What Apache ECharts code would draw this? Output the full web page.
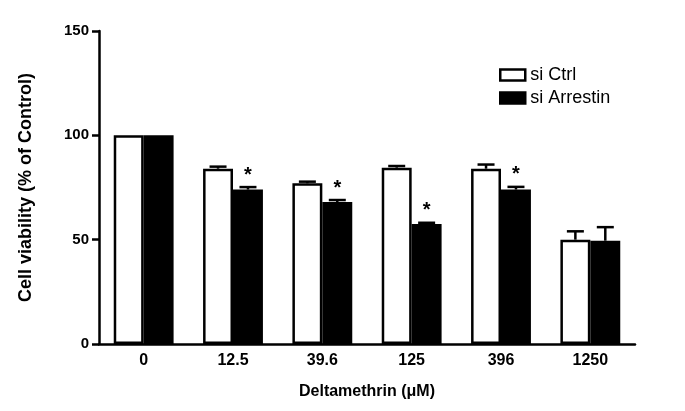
<!DOCTYPE html>
<html>
<head>
<meta charset="utf-8">
<script src="https://cdn.jsdelivr.net/npm/echarts@6/dist/echarts.min.js"></script>
<style>html,body{margin:0;padding:0;background:#fff}#c{width:685px;height:411px}</style>
</head>
<body>
<div id="c"></div>
<script>
var categories = ['0', '12.5', '39.6', '125', '396', '1250'];
var ctrlValues = [100, 84, 77, 84.5, 84, 50];
var ctrlErrors = [0, 1, 0.8, 0.8, 2, 4];
var arrValues = [100, 74, 68, 57.5, 74, 49.5];
var arrErrors = [0, 1.2, 1, 0.6, 1.3, 6.5];
var arrSignificant = [false, true, true, true, true, false];
var yTicks = [0, 50, 100, 150];

var FONT = 'Arial, "Liberation Sans", sans-serif';
var CAT_GAP = 0.33;

function errRender(values, errors, side, stars) {
  return function (params, api) {
    var i = api.value(0);
    var band = api.size([1, 0])[0];
    var bw = band * (1 - CAT_GAP) / 2;
    var base = api.coord([i, 0]);
    var cx = base[0] + side * bw / 2;
    var top = api.coord([i, values[i]])[1];
    var errTop = api.coord([i, values[i] + errors[i]])[1];
    var children = [];
    if (errors[i] > 0) {
      children.push({type: 'line', shape: {x1: cx, y1: top, x2: cx, y2: errTop}, style: {stroke: '#000', lineWidth: 2.5}});
      children.push({type: 'line', shape: {x1: cx - 8.5, y1: errTop, x2: cx + 8.5, y2: errTop}, style: {stroke: '#000', lineWidth: 2.5}});
    }
    if (stars && stars[i]) {
      children.push({type: 'text', style: {text: '*', x: cx, y: errTop - 2, align: 'center', verticalAlign: 'bottom', font: 'bold 20px ' + FONT, fill: '#000'}});
    }
    return {type: 'group', children: children};
  };
}

var chart = echarts.init(document.getElementById('c'), null, {renderer: 'canvas'});
chart.setOption({
  animation: false,
  backgroundColor: '#fff',
  grid: {left: 99, right: 50, top: 31, bottom: 67, containLabel: false},
  legend: {
    orient: 'vertical', left: 494, top: 61, itemWidth: 25, itemHeight: 11, itemGap: 5,
    icon: 'rect',
    textStyle: {fontFamily: FONT, fontSize: 18, color: '#000'},
    data: [
      {name: 'si Ctrl', itemStyle: {color: '#fff', borderColor: '#000', borderWidth: 2.5}},
      {name: 'si Arrestin', itemStyle: {color: '#000', borderColor: '#000', borderWidth: 2.5}}
    ]
  },
  xAxis: {
    type: 'category', data: categories,
    name: 'Deltamethrin (μM)', nameLocation: 'middle', nameGap: 40,
    nameTextStyle: {fontFamily: FONT, fontSize: 16, fontWeight: 'bold', color: '#000'},
    axisLine: {lineStyle: {color: '#000', width: 2.5}},
    axisTick: {alignWithLabel: true, length: 6, lineStyle: {color: '#000', width: 2.5}},
    axisLabel: {fontFamily: FONT, fontSize: 16, fontWeight: 'bold', color: '#000', margin: 9}
  },
  yAxis: {
    type: 'value', min: 0, max: 150, interval: 50,
    name: 'Cell viability (% of Control)', nameLocation: 'middle', nameGap: 64, nameRotate: 90,
    nameTextStyle: {fontFamily: FONT, fontSize: 18, fontWeight: 'bold', color: '#000'},
    axisLine: {show: true, lineStyle: {color: '#000', width: 2.5}},
    axisTick: {show: true, length: 7, lineStyle: {color: '#000', width: 2.5}},
    axisLabel: {fontFamily: FONT, fontSize: 15, fontWeight: 'bold', color: '#000', margin: 10},
    splitLine: {show: false}
  },
  series: [
    {name: 'si Ctrl', type: 'bar', data: ctrlValues, barGap: '0%', barCategoryGap: (CAT_GAP * 100) + '%',
     itemStyle: {color: '#fff', borderColor: '#000', borderWidth: 2.5}, z: 3},
    {name: 'si Arrestin', type: 'bar', data: arrValues,
     itemStyle: {color: '#000', borderColor: '#000', borderWidth: 2.5}, z: 3},
    {type: 'custom', data: categories.map(function (c, i) { return [i]; }), renderItem: errRender(ctrlValues, ctrlErrors, -1, null), z: 2, silent: true},
    {type: 'custom', data: categories.map(function (c, i) { return [i]; }), renderItem: errRender(arrValues, arrErrors, 1, arrSignificant), z: 2, silent: true}
  ]
});
</script>
</body>
</html>
